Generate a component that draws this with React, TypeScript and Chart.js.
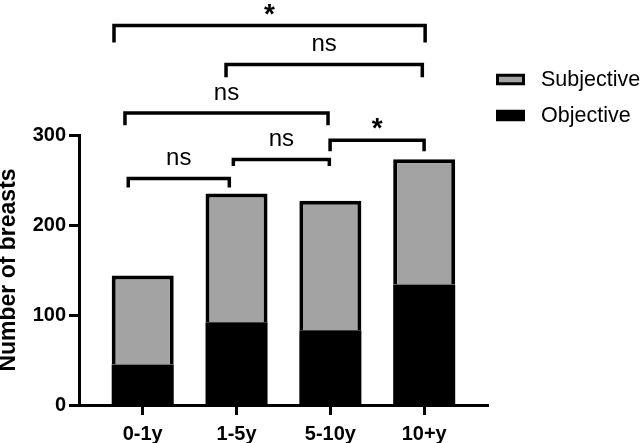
import React, { useEffect, useRef } from 'react';
import { Chart, registerables } from 'chart.js';
Chart.register(...registerables);

const categories = ['0-1y', '1-5y', '5-10y', '10+y'];
const objective = [45, 92, 83, 134];
const subjective = [99, 143, 144, 139];
const yTicks = [0, 100, 200, 300];

// comparison brackets (category-axis start/end, y level and leg end in data units)
const bracketStart = [-0.306, 0.888, -0.189, 1.997, 0.966, -0.154];
const bracketEnd = [3.01, 2.98, 1.975, 2.999, 1.989, 0.923];
const bracketLevel = [421.6, 378.4, 324.4, 294.1, 272.7, 251.7];
const bracketLegEnd = [402.8, 364.3, 310.8, 281.9, 265.6, 241.7];
const bracketLabel = ['*', 'ns', 'ns', '*', 'ns', 'ns'];

const seriesNames = ['Subjective', 'Objective'];
const GRAY = '#a3a3a3';
const FONT = 'Arial, "Liberation Sans", Helvetica, sans-serif';

const annotations = {
  id: 'annotations',
  afterDraw(chart: any) {
    const ctx = chart.ctx;
    const xs = chart.scales.x;
    const ys = chart.scales.y;
    ctx.save();
    ctx.strokeStyle = '#000';
    ctx.fillStyle = '#000';
    ctx.lineWidth = 3.5;
    ctx.lineJoin = 'miter';
    ctx.lineCap = 'butt';
    for (let i = 0; i < bracketStart.length; i++) {
      const x1 = xs.getPixelForValue(bracketStart[i]);
      const x2 = xs.getPixelForValue(bracketEnd[i]);
      const yl = ys.getPixelForValue(bracketLevel[i]);
      const yb = ys.getPixelForValue(bracketLegEnd[i]);
      ctx.beginPath();
      ctx.moveTo(x1, yb);
      ctx.lineTo(x1, yl);
      ctx.lineTo(x2, yl);
      ctx.lineTo(x2, yb);
      ctx.stroke();
      const lab = bracketLabel[i];
      ctx.textAlign = 'center';
      ctx.textBaseline = 'alphabetic';
      if (lab === '*') {
        ctx.font = 'bold 28px ' + FONT;
        ctx.fillText(lab, (x1 + x2) / 2, yl - 3);
      } else {
        ctx.font = '24px ' + FONT;
        ctx.fillText(lab, (x1 + x2) / 2, yl - 13.5);
      }
    }
    // legend
    const colors = [GRAY, '#000'];
    const boxX = 496, boxW = 29, boxH = 11.5;
    const rowY = [79.5, 115.5];
    ctx.font = '21.5px ' + FONT;
    ctx.textAlign = 'left';
    ctx.textBaseline = 'middle';
    for (let i = 0; i < seriesNames.length; i++) {
      const cy = rowY[i];
      ctx.fillStyle = '#000';
      ctx.fillRect(boxX, cy - boxH / 2, boxW, boxH);
      if (i === 0) {
        ctx.fillStyle = colors[0];
        ctx.fillRect(boxX + 3, cy - boxH / 2 + 3, boxW - 6, boxH - 6);
      }
      ctx.fillStyle = '#000';
      ctx.fillText(seriesNames[i], 541, cy + 1);
    }
    ctx.restore();
  },
};

export default function App() {
  const ref = useRef<HTMLCanvasElement | null>(null);
  useEffect(() => {
    if (!ref.current) return;
    const chart = new Chart(ref.current, {
      type: 'bar',
      data: {
        datasets: [
          {
            label: seriesNames[1],
            data: objective.map((v, i) => ({ x: i, y: v })),
            backgroundColor: '#000',
            borderWidth: 0,
            barPercentage: 0.661,
            categoryPercentage: 1,
          },
          {
            label: seriesNames[0],
            data: subjective.map((v, i) => ({ x: i, y: v })),
            backgroundColor: GRAY,
            borderColor: '#000',
            borderWidth: { top: 4, left: 4, right: 4, bottom: 0 },
            borderSkipped: false,
            barPercentage: 0.661,
            categoryPercentage: 1,
          },
        ],
      },
      options: {
        responsive: false,
        animation: false,
        layout: { padding: { top: 135, right: 154, bottom: 0, left: 0 } },
        plugins: { legend: { display: false }, tooltip: { enabled: false } },
        scales: {
          x: {
            type: 'linear',
            stacked: true,
            offset: false,
            min: -0.679,
            max: 3.68,
            afterBuildTicks: (scale: any) => {
              scale.ticks = categories.map((_, i) => ({ value: i }));
            },
            afterFit: (scale: any) => {
              scale.height = 38;
            },
            ticks: {
              callback: (v: any) => categories[v] ?? '',
              font: { family: FONT, size: 20, weight: 'bold' },
              color: '#000',
              padding: 7,
              maxRotation: 0,
              autoSkip: false,
            },
            grid: {
              offset: false,
              drawOnChartArea: false,
              drawTicks: true,
              tickLength: 10,
              tickWidth: 3,
              tickColor: '#000',
            },
            border: { display: true, color: '#000', width: 3 },
          },
          y: {
            stacked: true,
            min: 0,
            max: 300,
            afterBuildTicks: (scale: any) => {
              scale.ticks = yTicks.map((v) => ({ value: v }));
            },
            afterFit: (scale: any) => {
              scale.width = 79;
            },
            ticks: {
              font: { family: FONT, size: 20, weight: 'bold' },
              color: '#000',
              padding: 3,
            },
            grid: {
              drawOnChartArea: false,
              drawTicks: true,
              tickLength: 10,
              tickWidth: 3,
              tickColor: '#000',
            },
            border: { display: true, color: '#000', width: 3 },
            title: {
              display: true,
              text: 'Number of breasts',
              font: { family: FONT, size: 23, weight: 'bold' },
              color: '#000',
              padding: { top: -5.5, bottom: 0 },
            },
          },
        },
      },
      plugins: [annotations],
    } as any);
    return () => chart.destroy();
  }, []);
  return (
    <div style={{ position: 'absolute', left: 0, top: 0, width: 642, height: 443, background: '#fff' }}>
      <canvas ref={ref} width={642} height={443} style={{ display: 'block' }} />
    </div>
  );
}
